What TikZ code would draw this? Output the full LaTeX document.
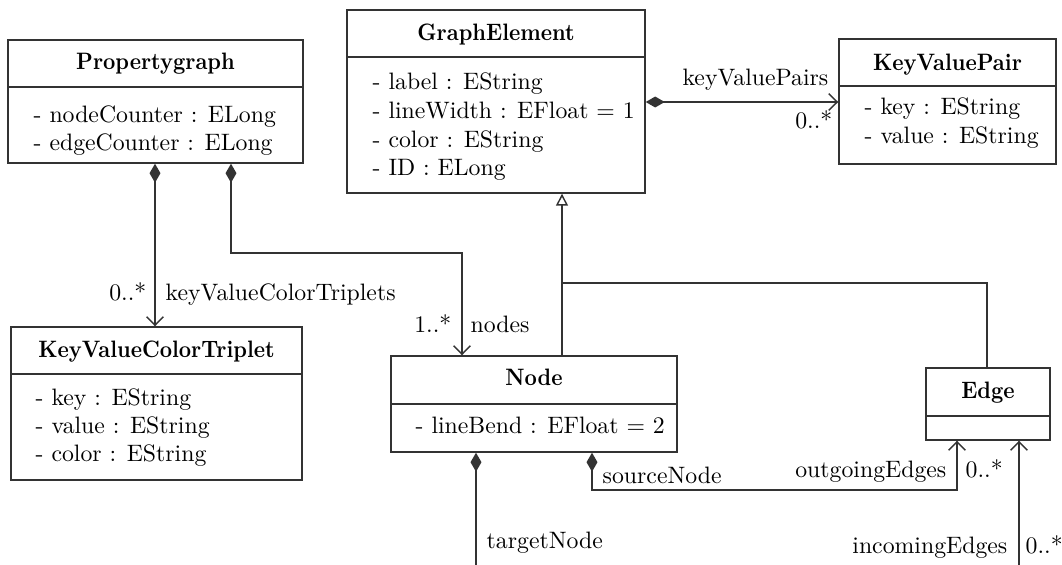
\documentclass[tikz,border=0pt]{standalone}
\usetikzlibrary{arrows.meta,fit}
\newcommand{\classname}[1]{\scalebox{0.9}[1]{\bfseries #1}}
\begin{document}
\begin{tikzpicture}[x=0.421pt,y=-0.421pt,
  font=\fontsize{10}{12}\selectfont,
  line width=0.6pt,
  classbox/.style={draw=black!80, inner sep=0pt, line width=0.6pt},
  sep/.style={draw=black!80, line width=0.6pt},
  ctitle/.style={anchor=base, inner sep=0pt},
  cattr/.style={anchor=base west, inner sep=0pt},
  lbl/.style={inner sep=0pt},
  conn/.style={draw=black!80, line width=0.6pt},
  comp/.style={conn, {Diamond[length=8pt,width=4.6pt]}-{Straight Barb[length=3.6pt,width=7pt]}},
  compplain/.style={conn, {Diamond[length=8pt,width=4.6pt]}-},
  nav/.style={conn, -{Straight Barb[length=3.6pt,width=7pt]}},
  inherit/.style={conn, -{Triangle[open,length=5pt,width=5pt,fill=white]}}
]
\useasboundingbox (0,0) rectangle (1062,565);

% ---- classes ----
% Propertygraph
\node[classbox, fit={(8,40) (303,163)}] (pg) {};
\draw[sep] (pg.west |- 0,87) -- (pg.east |- 0,87);
\node[ctitle] (pgT) at (pg.center |- 0,69) {\classname{Propertygraph}};
\node[cattr] (pgA1) at (33,122) {- nodeCounter : ELong};
\node[cattr] (pgA2) at (33,150) {- edgeCounter : ELong};

% GraphElement
\node[classbox, fit={(347,10) (645,193)}] (ge) {};
\draw[sep] (ge.west |- 0,57) -- (ge.east |- 0,57);
\node[ctitle] (geT) at (ge.center |- 0,40) {\classname{GraphElement}};
\node[cattr] (geA1) at (372,89) {- label : EString};
\node[cattr] (geA2) at (372,118) {- lineWidth : EFloat = 1};
\node[cattr] (geA3) at (372,147) {- color : EString};
\node[cattr] (geA4) at (372,175) {- ID : ELong};

% KeyValuePair
\node[classbox, fit={(839,39) (1056,164)}] (kvp) {};
\draw[sep] (kvp.west |- 0,86) -- (kvp.east |- 0,86);
\node[ctitle] (kvpT) at (kvp.center |- 0,70) {\classname{KeyValuePair}};
\node[cattr] (kvpA1) at (864,114) {- key : EString};
\node[cattr] (kvpA2) at (864,143) {- value : EString};

% KeyValueColorTriplet
\node[classbox, fit={(11,327) (302,480)}] (kvct) {};
\draw[sep] (kvct.west |- 0,374) -- (kvct.east |- 0,374);
\node[ctitle] (kvctT) at (kvct.center |- 0,357) {\classname{KeyValueColorTriplet}};
\node[cattr] (kvctA1) at (35,405) {- key : EString};
\node[cattr] (kvctA2) at (35,433) {- value : EString};
\node[cattr] (kvctA3) at (35,461) {- color : EString};

% Node
\node[classbox, fit={(391,356) (677,452)}] (nd) {};
\draw[sep] (nd.west |- 0,404) -- (nd.east |- 0,404);
\node[ctitle] (ndT) at (nd.center |- 0,385) {\classname{Node}};
\node[cattr] (ndA1) at (415,433) {- lineBend : EFloat = 2};

% Edge
\node[classbox, fit={(926,368) (1050,440)}] (ed) {};
\draw[sep] (ed.west |- 0,416) -- (ed.east |- 0,416);
\node[ctitle] (edT) at (ed.center |- 0,398) {\classname{Edge}};

% ---- free ends leaving the drawing ----
\coordinate (tgtEnd) at (476,565);
\coordinate (inEnd) at (1019,565);

% ---- associations ----
% GraphElement -> KeyValuePair
\draw[comp] (ge.east |- 0,102) -- (kvp.west |- 0,102);
\node[lbl, anchor=base east] (lKvp) at (829,85) {keyValuePairs};
\node[lbl, anchor=base east] (mKvp) at (833,128) {0..*};

% Propertygraph -> KeyValueColorTriplet
\draw[comp] (pg.south -| 155,0) -- (kvct.north -| 155,0);
\node[lbl, anchor=base east] (mKvct) at (147,300) {0..*};
\node[lbl, anchor=base west] (lKvct) at (165,300) {keyValueColorTriplets};

% Propertygraph -> Node
\draw[comp] (pg.south -| 231,0) -- (231,253) -- (462,253) -- (nd.north -| 462,0);
\node[lbl, anchor=base east] (mNodes) at (452,332) {1..*};
\node[lbl, anchor=base west] (lNodes) at (470,332) {nodes};

% Node and Edge specialise GraphElement
\draw[inherit] (nd.north -| 562,0) -- (562,283) -- (ge.south -| 562,0);
\draw[conn] (ed.north -| 987,0) -- (987,283) -- (562,283);

% Node -> Edge (sourceNode / outgoingEdges)
\draw[comp] (nd.south -| 592,0) -- (592,490) -- (957,490) -- (ed.south -| 957,0);
\node[lbl, anchor=base west] (lSrc) at (602,483) {sourceNode};
\node[lbl, anchor=base east] (lOut) at (947,477) {outgoingEdges};
\node[lbl, anchor=base west] (mOut) at (965,477) {0..*};

% Node (targetNode) and Edge (incomingEdges)
\draw[compplain] (nd.south -| 476,0) -- (tgtEnd);
\node[lbl, anchor=base west] (lTgt) at (486,548) {targetNode};
\draw[nav] (inEnd) -- (ed.south -| 1019,0);
\node[lbl, anchor=base east] (lIn) at (1008,553) {incomingEdges};
\node[lbl, anchor=base west] (mIn) at (1025,553) {0..*};
\end{tikzpicture}
\end{document}
